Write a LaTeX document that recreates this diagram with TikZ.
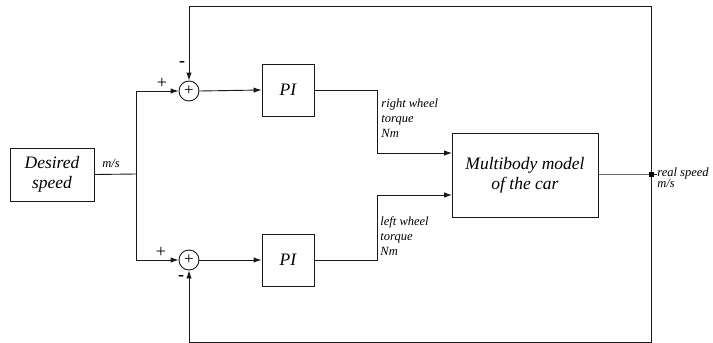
\documentclass[tikz,border=0pt]{standalone}
\usepackage{fontspec}
\setmainfont{Liberation Serif}
\usetikzlibrary{arrows.meta}
\begin{document}
\begin{tikzpicture}[x=1pt,y=-1pt,
  line width=0.9pt, draw=black!90,
  blk/.style={draw, rectangle, inner sep=0pt, font=\fontsize{17.5}{20}\selectfont\itshape, align=center},
  sum/.style={draw, circle, minimum size=20pt, inner sep=0pt, font=\fontsize{17}{17}\selectfont},
  arr/.style={-{Latex[length=8pt,width=5.5pt]}},
  lbl/.style={font=\fontsize{12.5}{15}\selectfont\itshape, align=left, inner sep=0pt},
  sgn/.style={font=\fontsize{18}{18}\selectfont, inner sep=0pt}]
\useasboundingbox (0,0) rectangle (713,343);
\node[blk, minimum width=84pt, minimum height=53pt] (ds) at (52,174.5) {Desired\\speed};
\node[blk, minimum width=52pt, minimum height=52pt] (pi1) at (288,90) {PI};
\node[blk, minimum width=52pt, minimum height=52pt] (pi2) at (288,260) {PI};
\node[blk, minimum width=146pt, minimum height=84pt] (mb) at (525,175) {Multibody model\\of the car};
\node[sum] (s1) at (189,91) {+};
\node[sum] (s2) at (189,260) {+};
\coordinate (split) at (136,174);
\coordinate (dot) at (651,174);
\coordinate (outend) at (657,174);
\coordinate (tr) at (651,6);
\coordinate (br) at (651,342);
\coordinate (j1) at (377,90);
\coordinate (j2) at (377,260);
\coordinate (in1) at (452,153);
\coordinate (in2) at (452,195);
% connections
\draw (ds.east) -- (split);
\draw[arr] (split) |- (s1.west);
\draw[arr] (split) |- (s2.west);
\draw[arr] (s1.east) -- (pi1.west);
\draw[arr] (s2.east) -- (pi2.west);
\draw[arr] (pi1.east) -- (j1) |- (in1);
\draw[arr] (pi2.east) -- (j2) |- (in2);
\draw (mb.east |- dot) -- (dot) -- (outend);
\draw[arr] (dot) -- (tr) -| (s1.north);
\draw[arr] (dot) -- (br) -| (s2.south);
\fill (dot) ++(-2.5,-2.5) rectangle ++(5,5);
% labels
\node[lbl] (lms) at (111,163) {m/s};
\node[lbl, anchor=west] (lr) at (381,118) {right wheel\\torque\\Nm};
\node[lbl, anchor=west] (ll) at (380,236) {left wheel\\torque\\Nm};
\node[lbl, anchor=west, font=\fontsize{12.5}{11}\selectfont\itshape] (lrs) at (657,177.5) {real speed\\m/s};
\node[sgn] (p1) at (162,83) {+};
\node[sgn] (m1) at (182,64) {\textbf{-}};
\node[sgn] (p2) at (161,252) {+};
\node[sgn] (m2) at (181,278) {\textbf{-}};
\end{tikzpicture}
\end{document}
